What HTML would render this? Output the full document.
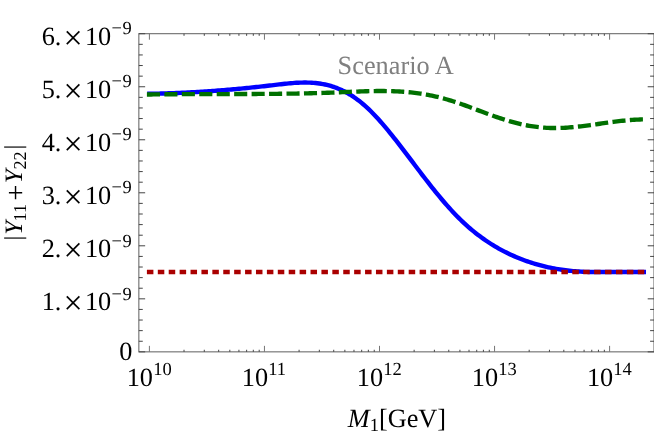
<!DOCTYPE html>
<html><head><meta charset="utf-8"><title>Scenario A</title>
<style>html,body{margin:0;padding:0;background:#fff;}body{width:654px;height:433px;overflow:hidden;}svg{display:block;will-change:transform;}text{font-family:"Liberation Serif",serif;fill:#000;text-rendering:geometricPrecision;}</style></head><body>
<svg width="654" height="433" viewBox="0 0 654 433">
<rect x="0" y="0" width="654" height="433" fill="#fff"/>
<path d="M149.40,93.77 L151.31,93.74 L153.22,93.70 L155.13,93.67 L157.04,93.63 L158.95,93.58 L160.85,93.54 L162.76,93.48 L164.67,93.43 L166.58,93.37 L168.49,93.31 L170.40,93.25 L172.31,93.18 L174.22,93.11 L176.13,93.03 L178.04,92.95 L179.94,92.87 L181.85,92.78 L183.76,92.70 L185.67,92.60 L187.58,92.51 L189.49,92.41 L191.40,92.31 L193.31,92.20 L195.22,92.09 L197.13,91.98 L199.03,91.87 L200.94,91.75 L202.85,91.63 L204.76,91.51 L206.67,91.38 L208.58,91.25 L210.49,91.11 L212.40,90.98 L214.31,90.84 L216.22,90.70 L218.12,90.55 L220.03,90.40 L221.94,90.25 L223.85,90.10 L225.76,89.94 L227.67,89.78 L229.58,89.61 L231.49,89.45 L233.40,89.28 L235.31,89.11 L237.21,88.93 L239.12,88.75 L241.03,88.57 L242.94,88.39 L244.85,88.21 L246.76,88.02 L248.67,87.83 L250.58,87.63 L252.49,87.43 L254.40,87.24 L256.30,87.03 L258.21,86.83 L260.12,86.62 L262.03,86.41 L263.94,86.20 L265.85,85.98 L267.76,85.77 L269.67,85.55 L271.58,85.32 L273.49,85.10 L275.39,84.87 L277.30,84.65 L279.21,84.42 L281.12,84.20 L283.03,83.99 L284.94,83.78 L286.85,83.59 L288.76,83.40 L290.67,83.23 L292.58,83.07 L294.48,82.93 L296.39,82.81 L298.30,82.71 L300.21,82.64 L302.12,82.58 L304.03,82.56 L305.94,82.56 L307.85,82.59 L309.76,82.65 L311.67,82.75 L313.57,82.88 L315.48,83.05 L317.39,83.26 L319.30,83.51 L321.21,83.80 L323.12,84.14 L325.03,84.52 L326.94,84.95 L328.85,85.44 L330.76,85.97 L332.66,86.56 L334.57,87.20 L336.48,87.90 L338.39,88.67 L340.30,89.48 L342.21,90.36 L344.12,91.31 L346.03,92.31 L347.94,93.37 L349.85,94.50 L351.76,95.70 L353.66,96.95 L355.57,98.28 L357.48,99.66 L359.39,101.12 L361.30,102.64 L363.21,104.24 L365.12,105.90 L367.03,107.63 L368.94,109.43 L370.85,111.29 L372.75,113.21 L374.66,115.19 L376.57,117.23 L378.48,119.32 L380.39,121.46 L382.30,123.65 L384.21,125.87 L386.12,128.14 L388.03,130.44 L389.94,132.78 L391.84,135.15 L393.75,137.55 L395.66,139.97 L397.57,142.41 L399.48,144.88 L401.39,147.36 L403.30,149.85 L405.21,152.36 L407.12,154.87 L409.03,157.39 L410.93,159.92 L412.84,162.45 L414.75,164.98 L416.66,167.50 L418.57,170.02 L420.48,172.54 L422.39,175.04 L424.30,177.53 L426.21,180.00 L428.12,182.46 L430.02,184.90 L431.93,187.31 L433.84,189.70 L435.75,192.07 L437.66,194.41 L439.57,196.72 L441.48,199.00 L443.39,201.25 L445.30,203.46 L447.21,205.64 L449.11,207.78 L451.02,209.89 L452.93,211.95 L454.84,213.97 L456.75,215.94 L458.66,217.87 L460.57,219.75 L462.48,221.59 L464.39,223.38 L466.30,225.12 L468.20,226.82 L470.11,228.48 L472.02,230.09 L473.93,231.66 L475.84,233.19 L477.75,234.67 L479.66,236.12 L481.57,237.53 L483.48,238.90 L485.39,240.23 L487.29,241.52 L489.20,242.78 L491.11,244.00 L493.02,245.19 L494.93,246.34 L496.84,247.46 L498.75,248.55 L500.66,249.60 L502.57,250.62 L504.48,251.61 L506.38,252.58 L508.29,253.51 L510.20,254.41 L512.11,255.29 L514.02,256.13 L515.93,256.96 L517.84,257.75 L519.75,258.52 L521.66,259.27 L523.57,259.99 L525.47,260.69 L527.38,261.37 L529.29,262.02 L531.20,262.64 L533.11,263.25 L535.02,263.83 L536.93,264.39 L538.84,264.93 L540.75,265.44 L542.66,265.93 L544.56,266.41 L546.47,266.86 L548.38,267.29 L550.29,267.70 L552.20,268.09 L554.11,268.45 L556.02,268.80 L557.93,269.13 L559.84,269.44 L561.75,269.73 L563.66,270.01 L565.56,270.26 L567.47,270.50 L569.38,270.71 L571.29,270.91 L573.20,271.09 L575.11,271.26 L577.02,271.41 L578.93,271.54 L580.84,271.65 L582.75,271.75 L584.65,271.84 L586.56,271.91 L588.47,271.96 L590.38,272.01 L592.29,272.04 L594.20,272.06 L596.11,272.06 L598.02,272.06 L599.93,272.04 L601.84,272.03 L603.74,272.01 L605.65,272.00 L607.56,272.00 L609.47,272.00 L611.38,272.00 L613.29,272.00 L615.20,272.00 L617.11,272.00 L619.02,272.00 L620.93,272.00 L622.83,272.00 L624.74,272.00 L626.65,272.00 L628.56,272.00 L630.47,272.00 L632.38,272.00 L634.29,272.00 L636.20,272.00 L638.11,272.00 L640.02,272.00 L641.92,272.00 L643.83,272.00" fill="none" stroke="#0000ff" stroke-width="4.4" stroke-linecap="square" stroke-linejoin="round"/>
<path d="M146.90,94.50 L149.40,94.50 L151.31,94.47 L153.22,94.44 L155.13,94.42 L157.04,94.40 L158.95,94.37 L160.85,94.35 L162.76,94.33 L164.67,94.31 L166.58,94.29 L168.49,94.28 L170.40,94.26 L172.31,94.25 L174.22,94.23 L176.13,94.22 L178.04,94.21 L179.94,94.19 L181.85,94.18 L183.76,94.17 L185.67,94.16 L187.58,94.15 L189.49,94.15 L191.40,94.14 L193.31,94.13 L195.22,94.12 L197.13,94.12 L199.03,94.11 L200.94,94.11 L202.85,94.10 L204.76,94.10 L206.67,94.09 L208.58,94.09 L210.49,94.08 L212.40,94.08 L214.31,94.08 L216.22,94.07 L218.12,94.07 L220.03,94.07 L221.94,94.06 L223.85,94.06 L225.76,94.06 L227.67,94.05 L229.58,94.05 L231.49,94.04 L233.40,94.04 L235.31,94.04 L237.21,94.03 L239.12,94.03 L241.03,94.02 L242.94,94.02 L244.85,94.01 L246.76,94.00 L248.67,94.00 L250.58,93.99 L252.49,93.98 L254.40,93.97 L256.30,93.96 L258.21,93.95 L260.12,93.94 L262.03,93.93 L263.94,93.92 L265.85,93.90 L267.76,93.89 L269.67,93.87 L271.58,93.86 L273.49,93.84 L275.39,93.82 L277.30,93.80 L279.21,93.78 L281.12,93.76 L283.03,93.74 L284.94,93.72 L286.85,93.69 L288.76,93.67 L290.67,93.64 L292.58,93.61 L294.48,93.58 L296.39,93.55 L298.30,93.51 L300.21,93.48 L302.12,93.44 L304.03,93.40 L305.94,93.36 L307.85,93.32 L309.76,93.27 L311.67,93.23 L313.57,93.18 L315.48,93.13 L317.39,93.08 L319.30,93.02 L321.21,92.97 L323.12,92.91 L325.03,92.85 L326.94,92.78 L328.85,92.72 L330.76,92.65 L332.66,92.58 L334.57,92.51 L336.48,92.43 L338.39,92.35 L340.30,92.27 L342.21,92.19 L344.12,92.11 L346.03,92.03 L347.94,91.95 L349.85,91.86 L351.76,91.78 L353.66,91.70 L355.57,91.63 L357.48,91.55 L359.39,91.48 L361.30,91.41 L363.21,91.35 L365.12,91.29 L367.03,91.23 L368.94,91.18 L370.85,91.14 L372.75,91.10 L374.66,91.07 L376.57,91.04 L378.48,91.03 L380.39,91.02 L382.30,91.02 L384.21,91.03 L386.12,91.05 L388.03,91.08 L389.94,91.12 L391.84,91.17 L393.75,91.23 L395.66,91.31 L397.57,91.40 L399.48,91.50 L401.39,91.61 L403.30,91.74 L405.21,91.88 L407.12,92.04 L409.03,92.21 L410.93,92.40 L412.84,92.60 L414.75,92.82 L416.66,93.06 L418.57,93.32 L420.48,93.60 L422.39,93.89 L424.30,94.21 L426.21,94.54 L428.12,94.89 L430.02,95.27 L431.93,95.66 L433.84,96.08 L435.75,96.52 L437.66,96.97 L439.57,97.45 L441.48,97.94 L443.39,98.45 L445.30,98.98 L447.21,99.53 L449.11,100.09 L451.02,100.67 L452.93,101.27 L454.84,101.88 L456.75,102.51 L458.66,103.16 L460.57,103.81 L462.48,104.48 L464.39,105.17 L466.30,105.86 L468.20,106.56 L470.11,107.27 L472.02,107.98 L473.93,108.69 L475.84,109.41 L477.75,110.12 L479.66,110.84 L481.57,111.56 L483.48,112.27 L485.39,112.98 L487.29,113.68 L489.20,114.38 L491.11,115.07 L493.02,115.76 L494.93,116.43 L496.84,117.09 L498.75,117.75 L500.66,118.39 L502.57,119.02 L504.48,119.63 L506.38,120.23 L508.29,120.81 L510.20,121.37 L512.11,121.92 L514.02,122.44 L515.93,122.95 L517.84,123.43 L519.75,123.89 L521.66,124.32 L523.57,124.73 L525.47,125.12 L527.38,125.49 L529.29,125.83 L531.20,126.15 L533.11,126.44 L535.02,126.71 L536.93,126.95 L538.84,127.17 L540.75,127.37 L542.66,127.54 L544.56,127.68 L546.47,127.81 L548.38,127.90 L550.29,127.97 L552.20,128.02 L554.11,128.04 L556.02,128.04 L557.93,128.01 L559.84,127.97 L561.75,127.90 L563.66,127.81 L565.56,127.71 L567.47,127.58 L569.38,127.44 L571.29,127.29 L573.20,127.12 L575.11,126.93 L577.02,126.73 L578.93,126.52 L580.84,126.30 L582.75,126.08 L584.65,125.84 L586.56,125.59 L588.47,125.34 L590.38,125.08 L592.29,124.82 L594.20,124.55 L596.11,124.28 L598.02,124.01 L599.93,123.73 L601.84,123.46 L603.74,123.19 L605.65,122.92 L607.56,122.65 L609.47,122.39 L611.38,122.13 L613.29,121.88 L615.20,121.63 L617.11,121.39 L619.02,121.16 L620.93,120.94 L622.83,120.73 L624.74,120.54 L626.65,120.35 L628.56,120.18 L630.47,120.02 L632.38,119.88 L634.29,119.75 L636.20,119.64 L638.11,119.56 L640.02,119.48 L641.92,119.43 L643.83,119.41" fill="none" stroke="#007000" stroke-width="4.35" stroke-linecap="butt" stroke-linejoin="round" stroke-dasharray="13.1 4.35"/>
<path d="M146.90,272.00 L646.53,272.00" fill="none" stroke="#aa0000" stroke-width="4.3" stroke-linecap="butt" stroke-dasharray="6.5 4.408"/>
<rect x="138.85" y="33.7" width="515.15" height="318.15" fill="none" stroke="#666" stroke-width="1.05"/>
<path d="M149.40,351.85 V345.85 M149.40,33.7 V39.70 M264.45,351.85 V345.85 M264.45,33.7 V39.70 M379.50,351.85 V345.85 M379.50,33.7 V39.70 M494.55,351.85 V345.85 M494.55,33.7 V39.70 M609.60,351.85 V345.85 M609.60,33.7 V39.70" fill="none" stroke="#757575" stroke-width="1"/>
<path d="M184.03,351.85 V349.75 M184.03,33.7 V35.80 M204.29,351.85 V349.75 M204.29,33.7 V35.80 M218.67,351.85 V349.75 M218.67,33.7 V35.80 M229.82,351.85 V349.75 M229.82,33.7 V35.80 M238.93,351.85 V349.75 M238.93,33.7 V35.80 M246.63,351.85 V349.75 M246.63,33.7 V35.80 M253.30,351.85 V349.75 M253.30,33.7 V35.80 M259.19,351.85 V349.75 M259.19,33.7 V35.80 M299.08,351.85 V349.75 M299.08,33.7 V35.80 M319.34,351.85 V349.75 M319.34,33.7 V35.80 M333.72,351.85 V349.75 M333.72,33.7 V35.80 M344.87,351.85 V349.75 M344.87,33.7 V35.80 M353.98,351.85 V349.75 M353.98,33.7 V35.80 M361.68,351.85 V349.75 M361.68,33.7 V35.80 M368.35,351.85 V349.75 M368.35,33.7 V35.80 M374.24,351.85 V349.75 M374.24,33.7 V35.80 M414.13,351.85 V349.75 M414.13,33.7 V35.80 M434.39,351.85 V349.75 M434.39,33.7 V35.80 M448.77,351.85 V349.75 M448.77,33.7 V35.80 M459.92,351.85 V349.75 M459.92,33.7 V35.80 M469.03,351.85 V349.75 M469.03,33.7 V35.80 M476.73,351.85 V349.75 M476.73,33.7 V35.80 M483.40,351.85 V349.75 M483.40,33.7 V35.80 M489.29,351.85 V349.75 M489.29,33.7 V35.80 M529.18,351.85 V349.75 M529.18,33.7 V35.80 M549.44,351.85 V349.75 M549.44,33.7 V35.80 M563.82,351.85 V349.75 M563.82,33.7 V35.80 M574.97,351.85 V349.75 M574.97,33.7 V35.80 M584.08,351.85 V349.75 M584.08,33.7 V35.80 M591.78,351.85 V349.75 M591.78,33.7 V35.80 M598.45,351.85 V349.75 M598.45,33.7 V35.80 M604.34,351.85 V349.75 M604.34,33.7 V35.80 M138.85,351.85 H145.15 M654.0,351.85 H647.70 M138.85,341.25 H142.75 M654.0,341.25 H650.10 M138.85,330.64 H142.75 M654.0,330.64 H650.10 M138.85,320.04 H142.75 M654.0,320.04 H650.10 M138.85,309.43 H142.75 M654.0,309.43 H650.10 M138.85,298.83 H145.15 M654.0,298.83 H647.70 M138.85,288.23 H142.75 M654.0,288.23 H650.10 M138.85,277.62 H142.75 M654.0,277.62 H650.10 M138.85,267.02 H142.75 M654.0,267.02 H650.10 M138.85,256.41 H142.75 M654.0,256.41 H650.10 M138.85,245.81 H145.15 M654.0,245.81 H647.70 M138.85,235.21 H142.75 M654.0,235.21 H650.10 M138.85,224.60 H142.75 M654.0,224.60 H650.10 M138.85,214.00 H142.75 M654.0,214.00 H650.10 M138.85,203.39 H142.75 M654.0,203.39 H650.10 M138.85,192.79 H145.15 M654.0,192.79 H647.70 M138.85,182.19 H142.75 M654.0,182.19 H650.10 M138.85,171.58 H142.75 M654.0,171.58 H650.10 M138.85,160.98 H142.75 M654.0,160.98 H650.10 M138.85,150.37 H142.75 M654.0,150.37 H650.10 M138.85,139.77 H145.15 M654.0,139.77 H647.70 M138.85,129.17 H142.75 M654.0,129.17 H650.10 M138.85,118.56 H142.75 M654.0,118.56 H650.10 M138.85,107.96 H142.75 M654.0,107.96 H650.10 M138.85,97.35 H142.75 M654.0,97.35 H650.10 M138.85,86.75 H145.15 M654.0,86.75 H647.70 M138.85,76.15 H142.75 M654.0,76.15 H650.10 M138.85,65.54 H142.75 M654.0,65.54 H650.10 M138.85,54.94 H142.75 M654.0,54.94 H650.10 M138.85,44.33 H142.75 M654.0,44.33 H650.10 M138.85,33.73 H145.15 M654.0,33.73 H647.70" fill="none" stroke="#444" stroke-width="1"/>
<text y="309.83" font-size="26.3"><tspan x="41.7">1.</tspan><tspan x="63.4" dy="3.9" font-size="33.9">×</tspan><tspan x="84.9" dy="-3.9">10</tspan><tspan x="111.4" dy="-10.3" font-size="18.5">−</tspan><tspan x="122.5" font-size="18.5">9</tspan></text>
<text y="256.81" font-size="26.3"><tspan x="41.7">2.</tspan><tspan x="63.4" dy="3.9" font-size="33.9">×</tspan><tspan x="84.9" dy="-3.9">10</tspan><tspan x="111.4" dy="-10.3" font-size="18.5">−</tspan><tspan x="122.5" font-size="18.5">9</tspan></text>
<text y="203.79" font-size="26.3"><tspan x="41.7">3.</tspan><tspan x="63.4" dy="3.9" font-size="33.9">×</tspan><tspan x="84.9" dy="-3.9">10</tspan><tspan x="111.4" dy="-10.3" font-size="18.5">−</tspan><tspan x="122.5" font-size="18.5">9</tspan></text>
<text y="150.77" font-size="26.3"><tspan x="41.7">4.</tspan><tspan x="63.4" dy="3.9" font-size="33.9">×</tspan><tspan x="84.9" dy="-3.9">10</tspan><tspan x="111.4" dy="-10.3" font-size="18.5">−</tspan><tspan x="122.5" font-size="18.5">9</tspan></text>
<text y="97.75" font-size="26.3"><tspan x="41.7">5.</tspan><tspan x="63.4" dy="3.9" font-size="33.9">×</tspan><tspan x="84.9" dy="-3.9">10</tspan><tspan x="111.4" dy="-10.3" font-size="18.5">−</tspan><tspan x="122.5" font-size="18.5">9</tspan></text>
<text y="44.73" font-size="26.3"><tspan x="41.7">6.</tspan><tspan x="63.4" dy="3.9" font-size="33.9">×</tspan><tspan x="84.9" dy="-3.9">10</tspan><tspan x="111.4" dy="-10.3" font-size="18.5">−</tspan><tspan x="122.5" font-size="18.5">9</tspan></text>
<text x="119.2" y="360.25" font-size="26.3">0</text>
<text y="385.6" font-size="26.3"><tspan x="126.70">10</tspan><tspan x="153.16" dy="-10.2" font-size="18.5">10</tspan></text>
<text y="385.6" font-size="26.3"><tspan x="241.75">10</tspan><tspan x="268.21" dy="-10.2" font-size="18.5">11</tspan></text>
<text y="385.6" font-size="26.3"><tspan x="356.80">10</tspan><tspan x="383.26" dy="-10.2" font-size="18.5">12</tspan></text>
<text y="385.6" font-size="26.3"><tspan x="471.85">10</tspan><tspan x="498.31" dy="-10.2" font-size="18.5">13</tspan></text>
<text y="385.6" font-size="26.3"><tspan x="586.90">10</tspan><tspan x="613.36" dy="-10.2" font-size="18.5">14</tspan></text>
<text y="427.2" font-size="26.3"><tspan x="347.8" font-style="italic">M</tspan><tspan dy="3.6" font-size="18.5">1</tspan><tspan dy="-3.6">[GeV]</tspan></text>
<g transform="translate(21.9,240) rotate(-90)"><text y="0" font-size="26.3"><tspan x="-0.43" dy="-0.85" font-size="24.3">|</tspan><tspan x="5.2" dy="0.85" font-size="25" font-style="italic">Y</tspan><tspan x="18.6" dy="4.1" font-size="18.2">11</tspan><tspan x="39.15" dy="-1.3" font-size="28.5">+</tspan><tspan x="56.85" dy="-2.8" font-size="25" font-style="italic">Y</tspan><tspan x="70.5" dy="4.1" font-size="18.2">22</tspan><tspan x="90.57" dy="-4.95" font-size="24.3">|</tspan></text></g>
<text x="337.6" y="74.3" font-size="26.3" style="fill:#808080">Scenario A</text>
</svg></body></html>
